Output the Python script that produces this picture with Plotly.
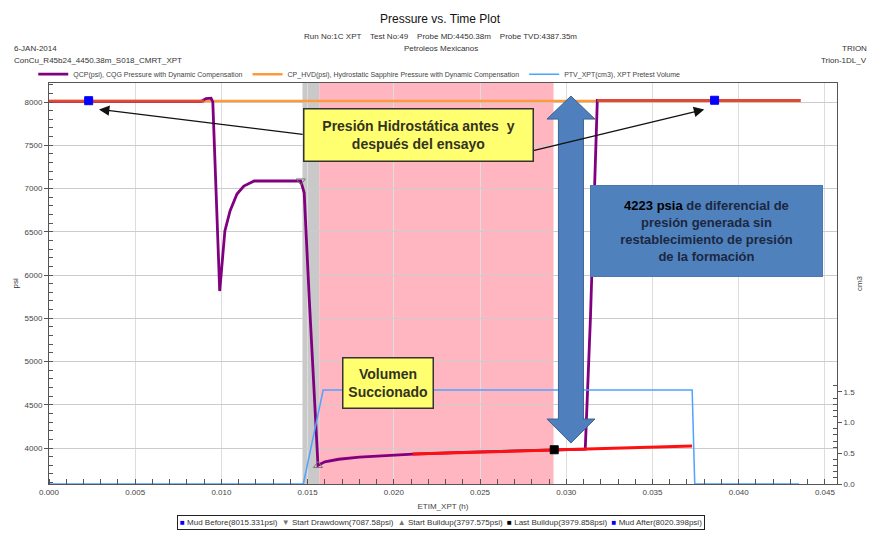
import plotly.graph_objects as go

# ETIM_XPT (h) vs pressure (psi)
qcp_t = [0.0, 0.0050, 0.0088, 0.0091, 0.0094, 0.0095, 0.0097, 0.0099, 0.0100, 0.0102,
         0.0105, 0.0109, 0.0113, 0.0119, 0.0146, 0.0148, 0.0151, 0.0153, 0.0156, 0.0160,
         0.0168, 0.0180, 0.0195, 0.0211, 0.0240, 0.0270, 0.0300, 0.0311, 0.0314, 0.0317,
         0.0318, 0.0325]
qcp_psi = [8005, 8003, 8005, 8040, 8045, 8000, 6800, 5815, 6046, 6509,
           6740, 6936, 7029, 7087, 7088, 6950, 5700, 5000, 3800, 3840,
           3870, 3895, 3915, 3930, 3950, 3968, 3982, 3988, 5500, 7600,
           8020, 8020]

hyd_t = [0.0, 0.0435]
hyd_psi = [8012, 8012]

ptv_t = [0.0, 0.01475, 0.0159, 0.0373, 0.03745, 0.0435]
ptv_cm3 = [0.0, 0.0, 1.53, 1.53, 0.0, 0.0]

mud_before_t = [0.0, 0.0090]
mud_before_psi = [8008, 8008]
buildup_fit_t = [0.0211, 0.0373]
buildup_fit_psi = [3932, 4023]
mud_after_t = [0.0318, 0.0436]
mud_after_psi = [8018, 8018]

point_names = ["Mud Before(8015.331psi)", "Start Drawdown(7087.58psi)",
               "Start Buildup(3797.575psi)", "Last Buildup(3979.858psi)",
               "Mud After(8020.398psi)"]
point_t = [0.0023, 0.0146, 0.0156, 0.0293, 0.0386]
point_psi = [8015.331, 7087.58, 3797.575, 3979.858, 8020.398]
point_symbols = ["square", "triangle-down-open", "triangle-up-open", "square", "square"]
point_glyphs = ["■", "▼", "▲", "■", "■"]
point_colors = ["#0000ff", "#777777", "#777777", "#000000", "#0000ff"]

drawdown_span = [0.0147, 0.01567]
buildup_span = [0.01567, 0.02926]

xticks = [0.0, 0.005, 0.010, 0.015, 0.020, 0.025, 0.030, 0.035, 0.040, 0.045]
y2ticks = [0.0, 0.5, 1.0, 1.5]
y2minor = [0.1, 0.2, 0.3, 0.4, 0.6, 0.7, 0.8, 0.9, 1.1, 1.2, 1.3, 1.4, 1.6]

font = "Liberation Sans"
fig = go.Figure()

# shaded drawdown / buildup periods
fig.add_vrect(x0=drawdown_span[0], x1=drawdown_span[1], fillcolor="#c9c9c9",
              line_width=0, layer="below")
fig.add_vrect(x0=buildup_span[0], x1=buildup_span[1], fillcolor="#ffb6c1",
              line_width=0, layer="below")

fig.add_trace(go.Scatter(x=ptv_t, y=ptv_cm3, yaxis="y2", mode="lines",
                         line=dict(color="#4da3ff", width=1.5),
                         name="PTV_XPT(cm3), XPT Pretest Volume", legendrank=3))
fig.add_trace(go.Scatter(x=hyd_t, y=hyd_psi, mode="lines",
                         line=dict(color="#ff9a3c", width=2.5),
                         name="CP_HVD(psi), Hydrostatic Sapphire Pressure with Dynamic Compensation",
                         legendrank=2))
fig.add_trace(go.Scatter(x=qcp_t, y=qcp_psi, mode="lines",
                         line=dict(color="#800080", width=2.8),
                         name="QCP(psi), CQG Pressure with Dynamic Compensation", legendrank=1))
for xs, ys, col in [(mud_before_t, mud_before_psi, "#dd4a3a"),
                    (buildup_fit_t, buildup_fit_psi, "#ff1010"),
                    (mud_after_t, mud_after_psi, "#dd4a3a")]:
    fig.add_trace(go.Scatter(x=xs, y=ys, mode="lines", line=dict(color=col, width=3),
                             showlegend=False, hoverinfo="skip"))

for name, t, p, sym, col in zip(point_names, point_t, point_psi, point_symbols, point_colors):
    fig.add_trace(go.Scatter(x=[t], y=[p], mode="markers", name=name, showlegend=False,
                             marker=dict(symbol=sym, size=8, color=col,
                                         line=dict(color=col, width=1))))

# marker key box under the x axis
key = "  ".join(f"<span style='color:{c}'>{g}</span> {n}"
                for g, c, n in zip(point_glyphs, point_colors, point_names))
fig.add_annotation(xref="paper", yref="paper", x=0.497, y=-0.097, yanchor="middle", text=key,
                   showarrow=False, bordercolor="#222", borderwidth=1, borderpad=2, bgcolor="white",
                   font=dict(family=font, size=8, color="#333"))

# big blue double arrow (x in pixels around the anchor)
fig.add_shape(type="path", xref="x", yref="y", xsizemode="pixel", xanchor=0.03027,
              path="M 0 8069 L 24 7803 L 12.5 7803 L 12.5 4335 L 24 4335 L 0 4058 "
                   "L -24 4335 L -12.5 4335 L -12.5 7803 L -24 7803 Z",
              fillcolor="#4f7fbd", line=dict(color="#3b6394", width=1))

# arrows to the mud markers
for tail, head in [((0.0148, 7624), (0.0029, 7915)), ((0.0280, 7433), (0.0380, 7915))]:
    fig.add_annotation(x=head[0], y=head[1], ax=tail[0], ay=tail[1], axref="x", ayref="y",
                       text="", showarrow=True, arrowhead=2, arrowsize=1.6, arrowwidth=1.3,
                       arrowcolor="#111111")

fig.add_annotation(x=0.02143, y=7624, text="<b>Presión Hidrostática antes  y<br>después del ensayo</b>",
                   showarrow=False, bgcolor="#ffff70", bordercolor="#333333", borderwidth=1.5,
                   width=226, height=49, font=dict(family=font, size=14, color="#333322"))
fig.add_annotation(x=0.01967, y=4746, text="<b>Volumen<br>Succionado</b>",
                   showarrow=False, bgcolor="#ffff70", bordercolor="#333333", borderwidth=1.5,
                   width=87, height=47, font=dict(family=font, size=14, color="#333322"))
fig.add_annotation(x=0.03816, y=6509,
                   text="<b><span style='color:#000000'>4223 psia</span> de diferencial de<br>"
                        "presión generada sin<br>restablecimiento de presión<br>de la formación</b>",
                   showarrow=False, bgcolor="#4f81bd", bordercolor="#4a78b0", borderwidth=1,
                   width=229, height=88, font=dict(family=font, size=13, color="#1c2740"))

# header texts
hdr = dict(xref="paper", yref="paper", showarrow=False, yanchor="middle",
           font=dict(family=font, size=8, color="#333"))
fig.add_annotation(x=0.497, y=1.160, text="Pressure vs. Time Plot",
                   **{**hdr, "font": dict(family=font, size=12, color="#111")})
fig.add_annotation(x=0.497, y=1.117,
                   text="Run No:1C XPT    Test No:49    Probe MD:4450.38m    Probe TVD:4387.35m", **hdr)
fig.add_annotation(x=0.497, y=1.087, text="Petroleos Mexicanos", **hdr)
fig.add_annotation(x=-0.047, y=1.087, xanchor="left", text="6-JAN-2014", **hdr)
fig.add_annotation(x=-0.047, y=1.057, xanchor="left", text="ConCu_R45b24_4450.38m_S018_CMRT_XPT", **hdr)
fig.add_annotation(x=1.04, y=1.087, xanchor="right", text="TRION", **hdr)
fig.add_annotation(x=1.04, y=1.057, xanchor="right", text="Trion-1DL_V", **hdr)
fig.add_annotation(x=-0.042, y=0.5, xanchor="center", textangle=-90, text="psi", **hdr)

axis_font = dict(family=font, size=8, color="#444")
fig.update_layout(
    width=875, height=537,
    margin=dict(l=41, r=46, t=75, b=61),
    paper_bgcolor="white", plot_bgcolor="white",
    font=dict(family=font, size=8, color="#333"),
    xaxis=dict(range=[0, 0.0457], tickvals=xticks, tickformat=".3f", showgrid=True,
               gridcolor="#dddddd", showline=True, linecolor="#555", mirror=True,
               ticks="", tickfont=axis_font, zeroline=False, automargin=False,
               title=dict(text="ETIM_XPT (h)", font=axis_font, standoff=7),
               minor=dict(dtick=0.001, ticks="inside", ticklen=5, tickcolor="#555", showgrid=False)),
    yaxis=dict(range=[3584, 8220], dtick=500, showgrid=True, gridcolor="#cccccc",
               showline=True, linecolor="#555", ticks="outside", ticklen=4, tickcolor="#555",
               tickfont=axis_font, zeroline=False, automargin=False,
               minor=dict(dtick=100, ticks="inside", ticklen=4, tickcolor="#555", showgrid=False)),
    yaxis2=dict(range=[0, 6.53], overlaying="y", side="right", tickvals=y2ticks, tickformat=".1f",
                showgrid=False, showline=True, linecolor="#555", ticks="outside", ticklen=4,
                tickcolor="#555", tickfont=axis_font, zeroline=False, automargin=False,
                title=dict(text="cm3", font=axis_font, standoff=2),
                minor=dict(tickvals=y2minor, ticks="inside", ticklen=4, tickcolor="#555")),
    legend=dict(orientation="h", x=-0.02, y=1.022, xanchor="left", yanchor="middle",
                font=dict(family=font, size=7, color="#444"), bgcolor="rgba(0,0,0,0)",
                itemwidth=30, tracegroupgap=0),
    showlegend=True,
)

fig.write_html("out.html")
